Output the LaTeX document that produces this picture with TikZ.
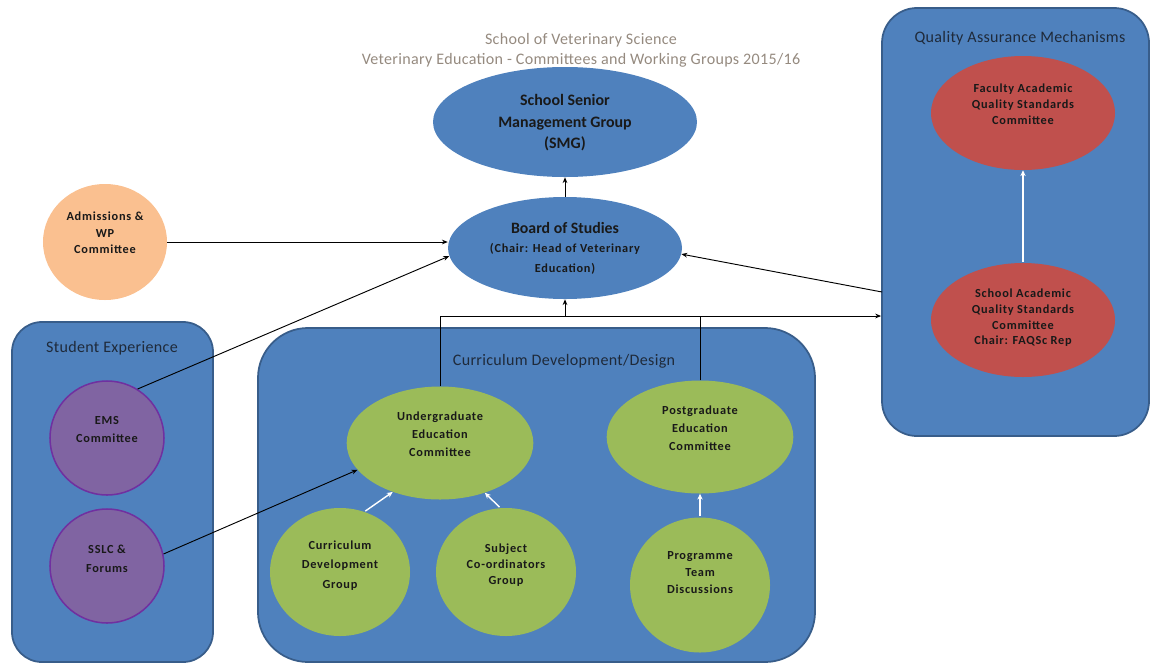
\documentclass[tikz,border=0pt]{standalone}
\usepackage{fontspec}
\setmainfont{Carlito}
\newfontfamily\lblfont[LetterSpace=6]{Carlito}
\newfontfamily\ttlfont[LetterSpace=2]{Carlito}
\usetikzlibrary{positioning,arrows.meta,shapes.geometric,calc}

\definecolor{grpblue}{HTML}{4F81BD}
\definecolor{grpline}{HTML}{385D8A}
\definecolor{admorange}{HTML}{FAC090}
\definecolor{sepurple}{HTML}{8064A2}
\definecolor{seborder}{HTML}{7030A0}
\definecolor{cdgreen}{HTML}{9BBB59}
\definecolor{qared}{HTML}{C0504D}
\definecolor{titlegray}{HTML}{958A7F}
\definecolor{labeltext}{HTML}{1F2A3A}

\begin{document}
\begin{tikzpicture}[
  x=0.03cm, y=-0.03cm,
  >=Stealth,
  grpbox/.style={draw=grpline, fill=grpblue, line width=1.5pt, inner sep=0pt},
  blueell/.style={ellipse, fill=grpblue, inner sep=0pt},
  admell/.style={ellipse, fill=admorange, inner sep=0pt},
  purpell/.style={ellipse, fill=sepurple, draw=seborder, line width=1.3pt, inner sep=0pt},
  greenell/.style={ellipse, fill=cdgreen, inner sep=0pt},
  redell/.style={ellipse, fill=qared, inner sep=0pt},
  bigtxt/.style={align=center, font=\bfseries\fontsize{13.6}{18.3}\selectfont, text=black!90},
  smalltxt/.style={align=center, font=\lblfont\bfseries\fontsize{10.5}{#1}\selectfont, text=black!90},
  smalltxt/.default=15.3,
  grptitle/.style={font=\ttlfont\fontsize{13.7}{16}\selectfont, text=labeltext},
  link/.style={->, black, line width=0.8pt, >={Stealth[length=5pt,width=4pt]}},
  plainlink/.style={black, line width=0.8pt},
  feed/.style={->, white, line width=1.2pt, >={Stealth[length=5pt,width=4.5pt]}, shorten <=1pt}
]
\useasboundingbox (0,0) rectangle (1151,664);

% --- title ---
\node[font=\ttlfont\fontsize{13.7}{17}\selectfont, text=titlegray, align=center] (title) at (581,50)
  {School of Veterinary Science\\Veterinary Education - Committees and Working Groups 2015/16};

% --- group boxes ---
\node[grpbox, rounded corners=0.9cm, minimum width=6.03cm, minimum height=10.2cm] (sebox) at (112.5,492) {};
\node[grpbox, rounded corners=1.5cm, minimum width=16.71cm, minimum height=10.02cm] (cdbox) at (536.5,495) {};
\node[grpbox, rounded corners=1.05cm, minimum width=8.01cm, minimum height=12.84cm] (qa) at (1015.5,222) {};
\node[grptitle] (setitle) at (112,348.5) {Student Experience};
\node[grptitle] (cdtitle) at (564,361.5) {Curriculum Development/Design};
\node[grptitle] (qatitle) at (1020,38.5) {Quality Assurance Mechanisms};

% --- top level ---
\node[blueell, minimum width=7.92cm, minimum height=3.3cm] (smg) at (565,122) {};
\node[bigtxt] (smgtxt) at (565,123) {School Senior\\Management Group\\(SMG)};
\node[blueell, minimum width=7.02cm, minimum height=3.06cm] (bos) at (565,248) {};
\node[smalltxt=16.6] (bostxt) at (565,248)
  {{\rmfamily\bfseries\fontsize{13.5}{16.6}\selectfont Board of Studies}\\
   (Chair: Head of Veterinary\\Education)};
\node[admell, minimum width=3.72cm, minimum height=3.48cm] (adm) at (105,242) {};
\node[smalltxt=14] (admtxt) at (105,233) {Admissions \&\\WP\\Committee};

% --- student experience ---
\node[purpell, minimum width=3.42cm, minimum height=3.42cm] (ems) at (107,438) {};
\node[smalltxt] (emstxt) at (107,429.5) {EMS\\Committee};
\node[purpell, minimum width=3.42cm, minimum height=3.42cm] (sslc) at (107,566) {};
\node[smalltxt=16] (sslctxt) at (107,558.5) {SSLC \&\\Forums};

% --- curriculum development ---
\node[greenell, minimum width=5.6cm, minimum height=3.39cm] (ug) at (440,443) {};
\node[smalltxt] (ugtxt) at (440,434.5) {Undergraduate\\Education\\Committee};
\node[greenell, minimum width=5.6cm, minimum height=3.39cm] (pg) at (700,437) {};
\node[smalltxt] (pgtxt) at (700,428.5) {Postgraduate\\Education\\Committee};
\node[greenell, minimum width=4.2cm, minimum height=3.84cm] (cdg) at (340,572) {};
\node[smalltxt=16.6] (cdgtxt) at (340,565.5) {Curriculum\\Development\\Group};
\node[greenell, minimum width=4.2cm, minimum height=3.84cm] (scg) at (506,572) {};
\node[smalltxt=13.6] (scgtxt) at (506,565.5) {Subject\\Co-ordinators\\Group};
\node[greenell, minimum width=4.2cm, minimum height=4.05cm] (ptd) at (700,585) {};
\node[smalltxt=14.5] (ptdtxt) at (700,573) {Programme\\Team\\Discussions};

% --- quality assurance ---
\node[redell, minimum width=5.52cm, minimum height=3.42cm] (faqsc) at (1023,113) {};
\node[smalltxt=13.6] (faqsctxt) at (1023,104.5) {Faculty Academic\\Quality Standards\\Committee};
\node[redell, minimum width=5.52cm, minimum height=3.42cm] (saqsc) at (1023,320) {};
\node[smalltxt=13.3] (saqsctxt) at (1023,318) {School Academic\\Quality Standards\\Committee\\Chair: FAQSc Rep};

% --- reporting lines ---
\coordinate (junc) at (565,316);
\coordinate (qain) at (882,292);
\draw[link] (bos.north) -- (smg.south);
\draw[link] (adm.east) -- (adm.east -| bos.west);
\draw[link] (ems.58) -- (bos.184);
\draw[link] (sslc.12) -- (ug.198);
\draw[link] (qain) -- (bos.-3);
\draw[link] (ug.north) |- (junc -| qa.west);
\draw[plainlink] (pg.north) -- (pg.north |- junc);
\draw[link] (junc) -- (bos.south);

% --- feeds inside the groups ---
\foreach \from/\to in {cdg.68/ug.226, scg.95/ug.312, ptd.north/pg.south, saqsc.north/faqsc.south}
  \draw[feed] (\from) -- (\to);

\end{tikzpicture}
\end{document}
